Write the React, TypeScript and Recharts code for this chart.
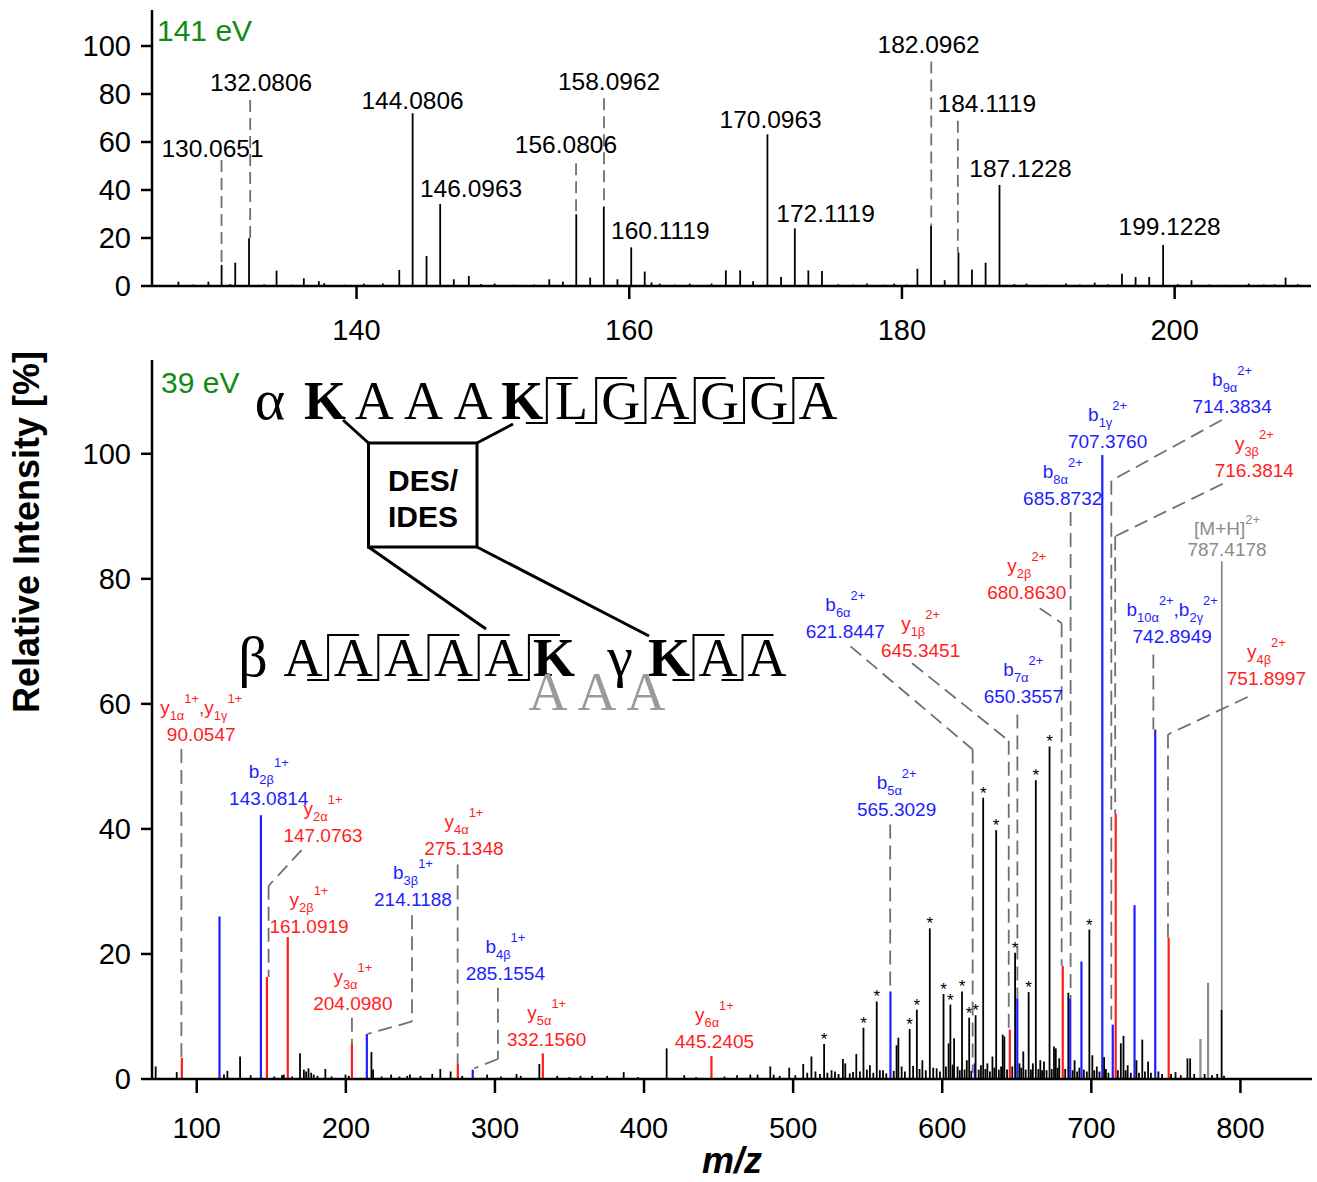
import React from "react";
import { ComposedChart, Bar, XAxis, YAxis, ReferenceLine, ReferenceDot, Label } from "recharts";

const FONT = '"Liberation Sans", Arial, sans-serif';
const SERIF = '"Liberation Serif", "Times New Roman", serif';
const COLORS: Record<string, string> = { k: "#000000", b: "#1e1eff", r: "#ff1e1e", g: "#8c8c8c" };
const LEADER = "#707070";

// ---- 141 eV panel ----
const topMz = [
  126.9, 128.0, 129.1, 130.07, 130.7, 131.07, 132.08, 133.2, 134.1, 135.2, 136.1, 137.2, 137.6, 139.1,
  140.5, 141.9, 143.1, 144.08, 145.1, 146.1, 147.1, 148.2, 149.1, 150.1, 151.5, 153.0, 154.1, 155.1,
  156.08, 157.1, 158.1, 159.1, 160.11, 161.1, 161.6, 162.2, 163.3, 164.4, 166.0, 167.05, 168.1, 169.05,
  170.1, 171.1, 172.11, 173.1, 174.1, 175.3, 176.4, 177.4, 178.6, 179.4, 180.3, 181.1, 182.1, 183.1,
  184.11, 185.1, 186.1, 187.12, 188.2, 189.1, 190.5, 192.0, 193.0, 194.1, 195.1, 196.1, 197.1, 198.1,
  199.12, 200.2, 201.2, 202.5, 203.6, 205.4, 206.5, 207.3, 208.1, 209.0,
];
const topIntensity = [
  1.8, 0.6, 1.8, 8.8, 0.8, 9.7, 19.9, 0.7, 6.4, 0.6, 3.2, 2.0, 1.2, 0.5,
  1.0, 1.0, 6.7, 72, 12.5, 34.2, 2.8, 4.2, 0.8, 1.0, 0.5, 0.6, 2.8, 1.8,
  29.9, 3.5, 33, 2.8, 16.1, 6.0, 1.5, 1.0, 0.6, 1.0, 1.0, 6.5, 6.5, 2.0,
  63.2, 3.8, 24, 6.5, 6.3, 0.7, 0.6, 1.0, 0.5, 1.0, 0.6, 7.2, 25.1, 2.4,
  14, 6.9, 9.7, 42.1, 0.8, 1.0, 0.5, 1.0, 0.6, 1.4, 0.7, 5.1, 3.75, 3.75,
  17.1, 0.8, 2.4, 0.6, 0.5, 1.0, 0.6, 0.7, 3.5, 0.8,
];
const topXTicks = [140, 160, 180, 200];
const yTicks = [0, 20, 40, 60, 80, 100];

const topLabels = [
  { text: "130.0651", x: 129.44, y: 53.9, leader: [[130.1, 52.5], [130.1, 8.8]] },
  { text: "132.0806", x: 133.0, y: 81.4, leader: [[132.2, 77.5], [132.2, 19.9]] },
  { text: "144.0806", x: 144.11, y: 73.75, leader: [] },
  { text: "146.0963", x: 148.4, y: 37.2, leader: [] },
  { text: "156.0806", x: 155.36, y: 55.3, leader: [[156.1, 51.1], [156.1, 29.9]] },
  { text: "158.0962", x: 158.52, y: 81.7, leader: [[158.15, 78.2], [158.15, 33]] },
  { text: "160.1119", x: 162.28, y: 19.4, leader: [] },
  { text: "170.0963", x: 170.37, y: 65.7, leader: [] },
  { text: "172.1119", x: 174.4, y: 26.8, leader: [] },
  { text: "182.0962", x: 181.96, y: 97, leader: [[182.15, 93.5], [182.15, 25.1]] },
  { text: "184.1119", x: 186.23, y: 72.6, leader: [[184.1, 68.9], [184.1, 14]] },
  { text: "187.1228", x: 188.69, y: 45.5, leader: [] },
  { text: "199.1228", x: 199.63, y: 21.25, leader: [] },
];

// ---- 39 eV panel ----
const blackMz = [
  72.5, 86.6, 118.3, 120.6, 129.1, 136.2, 152.0, 157.2, 158.4, 164.0, 169.3, 171.9, 173.4, 175.0, 176.8,
  178.5, 181.0, 186.3, 190.5, 199.8, 202.0, 217.2, 218.3, 224.0, 230.4, 236.0, 241.2, 243.0, 250.1, 258.0,
  263.4, 270.3, 278.1, 294.8, 304.0, 314.5, 317.3, 329.8, 341.8, 350.0, 357.4, 365.2, 375.3, 386.4, 396.0,
  415.2, 427.0, 435.0, 454.0, 462.4, 471.3, 476.2, 484.7, 487.0, 491.0, 497.4, 501.5, 506.8, 509.5, 512.3,
  515.0, 518.0, 520.8, 523.0, 525.8, 528.1, 530.5, 533.4, 535.0, 538.0, 540.2, 542.4, 544.8, 547.2, 549.5,
  551.5, 553.8, 556.1, 558.2, 560.3, 562.5, 567.5, 569.4, 570.6, 572.8, 575.0, 578.2, 580.5, 583.0, 584.8,
  586.7, 589.0, 591.7, 594.0, 596.3, 598.5, 600.9, 602.5, 604.3, 605.5, 607.0, 608.0, 610.3, 611.8, 613.3,
  615.0, 616.5, 618.1, 619.5, 622.4, 624.5, 626.0, 627.5, 629.0, 630.3, 632.0, 633.7, 635.0, 636.2, 638.0,
  639.5, 640.6, 641.7, 643.5, 647.0, 648.9, 651.8, 653.0, 654.4, 656.0, 658.0, 659.5, 660.8, 662.8, 664.5,
  665.8, 667.0, 668.3, 670.0, 672.0, 673.5, 675.0, 676.2, 677.5, 678.5, 682.5, 684.6, 687.5, 688.8, 690.5,
  692.0, 695.0, 697.0, 698.7, 700.7, 702.0, 703.7, 705.5, 708.6, 709.8, 711.5, 717.8, 719.8, 721.6, 723.0,
  724.4, 726.5, 730.3, 732.0, 734.2, 736.0, 738.1, 740.0, 745.0, 747.5, 753.5, 756.5, 760.0, 764.5, 766.3,
  769.0, 776.0, 781.0, 784.5, 787.42, 789.0,
];
const blackIntensity = [
  2.0, 1.1, 0.7, 1.3, 3.6, 0.6, 0.4, 0.6, 0.7, 0.4, 4.1, 1.5, 1.2, 1.7, 1.0,
  0.7, 0.5, 1.6, 0.4, 0.7, 0.5, 4.3, 1.5, 0.4, 0.7, 0.4, 0.5, 0.7, 0.5, 0.8,
  1.6, 1.2, 0.5, 0.7, 0.4, 0.8, 0.5, 2.4, 0.5, 0.3, 0.5, 0.5, 0.5, 1.1, 0.3,
  4.9, 0.6, 0.3, 0.4, 0.6, 0.7, 0.7, 2.0, 0.7, 0.5, 1.8, 0.6, 2.4, 1.0, 3.6,
  1.2, 0.8, 5.6, 1.0, 1.4, 1.2, 0.8, 3.2, 2.5, 0.9, 1.1, 4.0, 1.2, 8.2, 1.5,
  2.2, 1.0, 12.4, 1.4, 1.4, 0.9, 1.3, 5.4, 6.6, 2.0, 1.2, 8.0, 2.1, 11.1, 1.6,
  3.0, 1.4, 24.1, 1.8, 1.7, 1.2, 13.6, 2.0, 5.7, 11.9, 2.3, 6.5, 2.0, 1.4, 14.0,
  1.5, 3.0, 9.8, 1.3, 10.2, 1.5, 2.2, 45.0, 1.6, 2.5, 1.2, 3.6, 1.8, 39.8, 1.5,
  2.0, 7.1, 6.8, 1.5, 2.0, 20.2, 2.5, 1.8, 4.4, 1.5, 13.9, 1.5, 2.5, 47.8, 1.6,
  3.0, 1.4, 2.8, 1.4, 53.2, 1.6, 5.2, 4.9, 1.8, 3.3, 1.6, 13.8, 1.4, 3.0, 1.2,
  1.8, 1.5, 1.2, 23.9, 3.8, 1.4, 2.0, 1.2, 3.5, 1.6, 1.0, 1.4, 5.7, 6.9, 1.4,
  2.2, 1.0, 3.0, 1.0, 6.3, 1.2, 2.8, 1.0, 1.2, 0.8, 0.8, 1.1, 0.6, 3.3, 3.3,
  0.8, 0.8, 0.6, 0.8, 11.1, 0.5,
];
const blueMz = [115.3, 143.08, 214.12, 285.16, 565.3, 621.84, 650.36, 685.87, 693.4, 707.38, 714.38, 729.0, 742.89];
const blueIntensity = [26, 42.2, 7.2, 1.5, 14, 2.5, 12.9, 12.9, 18.8, 99.8, 8.7, 27.8, 55.9];
const redMz = [90.05, 147.08, 161.09, 204.1, 275.13, 332.16, 445.24, 645.35, 680.86, 716.38, 751.9];
const redIntensity = [3.4, 16.3, 22.7, 5.6, 2.4, 4.1, 3.7, 7.9, 18.1, 42.4, 22.6];
const grayMz = [773.2, 778.3];
const grayIntensity = [6.4, 15.4];
// peaks marked with an asterisk
const starMz = [520.8, 547.2, 556.1, 578.2, 583.0, 591.7, 600.9, 605.5, 613.3, 618.1, 622.4, 627.5, 636.2, 648.9, 658.0, 662.8, 672.0, 698.7];
const lowXTicks = [100, 200, 300, 400, 500, 600, 700, 800];

const lowLabels = [
  { ion: "y_{1α}^{1+},y_{1γ}^{1+}", text: "90.0547", c: "r", x: 103.0, y: 54.1, leader: [[89.7, 52.8], [89.7, 3.4]] },
  { ion: "b_{2β}^{1+}", text: "143.0814", c: "b", x: 148.3, y: 43.8, leader: [] },
  { ion: "y_{2α}^{1+}", text: "147.0763", c: "r", x: 184.7, y: 37.9, leader: [[170.3, 36.6], [148.2, 30.9], [148.2, 16.3]] },
  { ion: "y_{2β}^{1+}", text: "161.0919", c: "r", x: 175.3, y: 23.4, leader: [] },
  { ion: "y_{3α}^{1+}", text: "204.0980", c: "r", x: 204.7, y: 11.1, leader: [[204.1, 9.8], [204.1, 5.6]] },
  { ion: "b_{3β}^{1+}", text: "214.1188", c: "b", x: 245, y: 27.6, leader: [[244.4, 26.2], [244.4, 9.2], [214.6, 7.2]] },
  { ion: "y_{4α}^{1+}", text: "275.1348", c: "r", x: 279.2, y: 35.9, leader: [[275.0, 34.3], [275.0, 2.4]] },
  { ion: "b_{4β}^{1+}", text: "285.1554", c: "b", x: 307, y: 15.9, leader: [[302, 14.6], [302, 3.2], [286.2, 1.7]] },
  { ion: "y_{5α}^{1+}", text: "332.1560", c: "r", x: 334.7, y: 5.2, leader: [] },
  { ion: "y_{6α}^{1+}", text: "445.2405", c: "r", x: 447.2, y: 4.9, leader: [] },
  { ion: "b_{5α}^{2+}", text: "565.3029", c: "b", x: 569.4, y: 42.0, leader: [[565.1, 40.7], [565.1, 14]] },
  { ion: "b_{6α}^{2+}", text: "621.8447", c: "b", x: 535, y: 70.5, leader: [[538.5, 69.2], [620.4, 52.7], [620.4, 1]] },
  { ion: "y_{1β}^{2+}", text: "645.3451", c: "r", x: 585.5, y: 67.5, leader: [[579.8, 66.5], [644.6, 54.1], [644.6, 7.9]] },
  { ion: "b_{7α}^{2+}", text: "650.3557", c: "b", x: 654.4, y: 60.2, leader: [[650.4, 58.3], [650.4, 12.9]] },
  { ion: "y_{2β}^{2+}", text: "680.8630", c: "r", x: 656.7, y: 76.8, leader: [[665.4, 75.3], [680.1, 72.9], [680.1, 18.1]] },
  { ion: "b_{8α}^{2+}", text: "685.8732", c: "b", x: 680.8, y: 91.8, leader: [[686.1, 90.7], [686.1, 12.9]] },
  { ion: "b_{1γ}^{2+}", text: "707.3760", c: "b", x: 710.9, y: 101, leader: [] },
  { ion: "b_{9α}^{2+}", text: "714.3834", c: "b", x: 794.4, y: 106.6, leader: [[787.5, 105.4], [713.4, 95.7], [713.4, 8.7]] },
  { ion: "y_{3β}^{2+}", text: "716.3814", c: "r", x: 809.3, y: 96.3, leader: [[788.2, 95.2], [716.0, 86.8], [716.0, 42.4]] },
  { ion: "[M+H]^{2+}", text: "787.4178", c: "g", x: 791, y: 83.7, leader: [[787.5, 82.8], [787.5, 11.1]], solid: true },
  { ion: "b_{10α}^{2+},b_{2γ}^{2+}", text: "742.8949", c: "b", x: 754.2, y: 69.7, leader: [[741.6, 67.9], [741.6, 55.9]] },
  { ion: "y_{4β}^{2+}", text: "751.8997", c: "r", x: 817.4, y: 63.0, leader: [[804.8, 61.1], [751.4, 55.1], [751.4, 22.6]] },
];

const topData = topMz.map((mz, i) => ({ mz, h: topIntensity[i], c: "k", star: false }));

const lowData = [
  ...blackMz.map((mz, i) => ({ mz, h: blackIntensity[i], c: "k" })),
  ...blueMz.map((mz, i) => ({ mz, h: blueIntensity[i], c: "b" })),
  ...redMz.map((mz, i) => ({ mz, h: redIntensity[i], c: "r" })),
  ...grayMz.map((mz, i) => ({ mz, h: grayIntensity[i], c: "g" })),
]
  .map((d) => ({ ...d, star: starMz.includes(d.mz) }))
  .sort((a, b) => a.mz - b.mz);

function Stick(props: any) {
  const { x, y, width, height, payload } = props;
  if (typeof x !== "number" || typeof y !== "number" || !payload) return null;
  const cx = x + (width || 0) / 2;
  const color = COLORS[payload.c] || "#000";
  return (
    <g>
      <line x1={cx} x2={cx} y1={y} y2={y + height} stroke={color} strokeWidth={payload.c === "k" ? 1.8 : 2.2} />
      {payload.star ? (
        <text x={cx} y={y + 1} textAnchor="middle" fontSize={17} fontFamily={FONT} fill="#000">
          *
        </text>
      ) : null}
    </g>
  );
}

function ionSpans(str: string, size: number) {
  const out: React.ReactNode[] = [];
  const re = /([_^])\{([^}]*)\}|([^_^]+)/g;
  let m: RegExpExecArray | null;
  let cur = 0;
  let k = 0;
  while ((m = re.exec(str))) {
    if (m[3]) {
      out.push(<tspan key={k++} dy={-cur} fontSize={size}>{m[3]}</tspan>);
      cur = 0;
    } else if (m[1] === "_") {
      out.push(<tspan key={k++} dy={6 - cur} fontSize={size * 0.68}>{m[2]}</tspan>);
      cur = 6;
    } else {
      out.push(<tspan key={k++} dy={-11 - cur} fontSize={size * 0.68}>{m[2]}</tspan>);
      cur = -11;
    }
  }
  return out;
}

function segments(leader: number[][]) {
  const segs: { x: number; y: number }[][] = [];
  for (let i = 1; i < leader.length; i++) {
    segs.push([
      { x: leader[i - 1][0], y: leader[i - 1][1] },
      { x: leader[i][0], y: leader[i][1] },
    ]);
  }
  return segs;
}

const axisLine = { stroke: "#000", strokeWidth: 2.5 };
const tickLine = { stroke: "#000", strokeWidth: 2.5 };
const tickStyle = { fontSize: 29, fill: "#000", fontFamily: FONT };

function Scheme() {
  const alpha = ["K", "A", "A", "A", "K", "L", "G", "A", "G", "G", "A"];
  const beta = ["A", "A", "A", "A", "A", "K"];
  const gamma = ["K", "A", "A"];
  const letter = (ch: string, x: number, y: number, key: string, fill = "#000") => (
    <text key={key} x={x} y={y} textAnchor="middle" fontFamily={SERIF} fontSize={54} fontWeight={ch === "K" ? 700 : 400} fill={fill}>
      {ch}
    </text>
  );
  const marker = (x: number, base: number, key: string) => (
    <polyline key={key} points={`${x - 21},${base + 4} ${x},${base + 4} ${x},${base - 41} ${x + 31},${base - 41}`} fill="none" stroke="#000" strokeWidth={2} />
  );
  const aX = (i: number) => 325 + 49.3 * i;
  const bX = (i: number) => 303 + 50.2 * i;
  const gX = (i: number) => 669 + 49 * i;
  return (
    <g>
      <text x={270} y={419} textAnchor="middle" fontFamily={SERIF} fontSize={58}>α</text>
      {alpha.map((ch, i) => letter(ch, aX(i), 419, "a" + i))}
      {alpha.slice(5).map((_, j) => (j < 6 ? marker((aX(4 + j) + aX(5 + j)) / 2, 419, "am" + j) : null))}
      <text x={253} y={676} textAnchor="middle" fontFamily={SERIF} fontSize={58}>β</text>
      {beta.map((ch, i) => letter(ch, bX(i), 676, "b" + i))}
      {beta.slice(1).map((_, j) => marker((bX(j) + bX(j + 1)) / 2, 676, "bm" + j))}
      {[0, 1, 2].map((i) => letter("A", 548 + 49 * i, 710, "gr" + i, "#9a9a9a"))}
      <text x={620} y={676} textAnchor="middle" fontFamily={SERIF} fontSize={58}>γ</text>
      {gamma.map((ch, i) => letter(ch, gX(i), 676, "g" + i))}
      {gamma.slice(1).map((_, j) => marker((gX(j) + gX(j + 1)) / 2, 676, "gm" + j))}
      <rect x={368.5} y={443} width={108.5} height={104} fill="#fff" stroke="#000" strokeWidth={3} />
      <line x1={343} y1={420} x2={368.5} y2={443} stroke="#000" strokeWidth={3} />
      <line x1={513} y1={424} x2={477} y2={443} stroke="#000" strokeWidth={3} />
      <line x1={368.5} y1={547} x2={486} y2={629} stroke="#000" strokeWidth={3} />
      <line x1={477} y1={547} x2={649} y2={636} stroke="#000" strokeWidth={3} />
      <text x={423} y={491} textAnchor="middle" fontFamily={FONT} fontWeight={700} fontSize={30}>DES/</text>
      <text x={423} y={527} textAnchor="middle" fontFamily={FONT} fontWeight={700} fontSize={30}>IDES</text>
    </g>
  );
}

export default function App() {
  return (
    <div style={{ position: "absolute", left: 0, top: 0, width: 1317, height: 1182, background: "#fff", fontFamily: FONT }}>
      <div style={{ position: "absolute", left: 0, top: 0 }}>
        <ComposedChart width={1317} height={350} data={topData} margin={{ top: 10, right: 6, left: 0, bottom: 0 }}>
          <XAxis dataKey="mz" type="number" domain={[125, 210]} ticks={topXTicks} allowDataOverflow
            axisLine={axisLine} tickLine={tickLine} tickSize={13} tickMargin={20} tick={tickStyle} height={64} />
          <XAxis xAxisId="top" orientation="top" dataKey="mz" type="number" domain={[125, 210]} allowDataOverflow
            axisLine={axisLine} tick={false} tickLine={false} height={0} />
          <YAxis type="number" domain={[0, 115]} ticks={yTicks} allowDataOverflow width={152}
            axisLine={axisLine} tickLine={tickLine} tickSize={11} tickMargin={10} tick={tickStyle} />
          <YAxis yAxisId="right" orientation="right" type="number" domain={[0, 115]} width={0}
            axisLine={axisLine} tick={false} tickLine={false} />
          <Bar dataKey="h" barSize={2} shape={Stick} isAnimationActive={false} />
          {topLabels.flatMap((l, i) =>
            segments(l.leader).map((s, j) => (
              <ReferenceLine key={`tl${i}-${j}`} segment={s} stroke={LEADER} strokeWidth={1.8} strokeDasharray="12 6" ifOverflow="visible" />
            ))
          )}
          {topLabels.map((l, i) => (
            <ReferenceDot key={`td${i}`} x={l.x} y={l.y} r={1} ifOverflow="visible"
              shape={(p: any) => (
                <text x={p.cx} y={p.cy} textAnchor="middle" fontFamily={FONT} fontSize={24.5} fill="#000">{l.text}</text>
              )} />
          ))}
        </ComposedChart>
      </div>
      <div style={{ position: "absolute", left: 0, top: 350 }}>
        <ComposedChart width={1317} height={832} data={lowData} margin={{ top: 10, right: 5, left: 0, bottom: 0 }}>
          <XAxis dataKey="mz" type="number" domain={[70, 848]} ticks={lowXTicks} allowDataOverflow
            axisLine={axisLine} tickLine={tickLine} tickSize={14} tickMargin={24} tick={tickStyle} height={103}>
            <Label value="m/z" position="insideBottom" offset={9}
              style={{ fontSize: 36, fontWeight: 700, fontStyle: "italic", fill: "#000", fontFamily: FONT }} />
          </XAxis>
          <XAxis xAxisId="top" orientation="top" dataKey="mz" type="number" domain={[70, 848]} allowDataOverflow
            axisLine={axisLine} tick={false} tickLine={false} height={0} />
          <YAxis type="number" domain={[0, 115]} ticks={yTicks} allowDataOverflow width={152}
            axisLine={axisLine} tickLine={tickLine} tickSize={11} tickMargin={10} tick={tickStyle} />
          <YAxis yAxisId="right" orientation="right" type="number" domain={[0, 115]} width={0}
            axisLine={axisLine} tick={false} tickLine={false} />
          <Bar dataKey="h" barSize={2} shape={Stick} isAnimationActive={false} />
          {lowLabels.flatMap((l, i) =>
            segments(l.leader).map((s, j) => (
              <ReferenceLine key={`ll${i}-${j}`} segment={s} stroke={l.solid ? "#8c8c8c" : LEADER} strokeWidth={1.8}
                strokeDasharray={l.solid ? undefined : "14 7"} ifOverflow="visible" />
            ))
          )}
          {lowLabels.map((l, i) => (
            <ReferenceDot key={`ld${i}`} x={l.x} y={l.y} r={1} ifOverflow="visible"
              shape={(p: any) => (
                <g fill={COLORS[l.c]} fontFamily={FONT}>
                  <text x={p.cx} y={p.cy - (l.solid ? 21 : 27)} textAnchor="middle" fontSize={19}>{ionSpans(l.ion, 19)}</text>
                  <text x={p.cx} y={p.cy} textAnchor="middle" fontSize={19}>{l.text}</text>
                </g>
              )} />
          ))}
        </ComposedChart>
      </div>
      <svg width={1317} height={1182} style={{ position: "absolute", left: 0, top: 0, pointerEvents: "none" }}>
        <text x={157} y={41} fontFamily={FONT} fontSize={30} fill="#138a13">141 eV</text>
        <text x={161} y={393} fontFamily={FONT} fontSize={30} fill="#138a13">39 eV</text>
        <text x={39} y={532} transform="rotate(-90 39 532)" textAnchor="middle" fontFamily={FONT} fontWeight={700} fontSize={36} fill="#000">
          Relative Intensity [%]
        </text>
        <Scheme />
      </svg>
    </div>
  );
}
